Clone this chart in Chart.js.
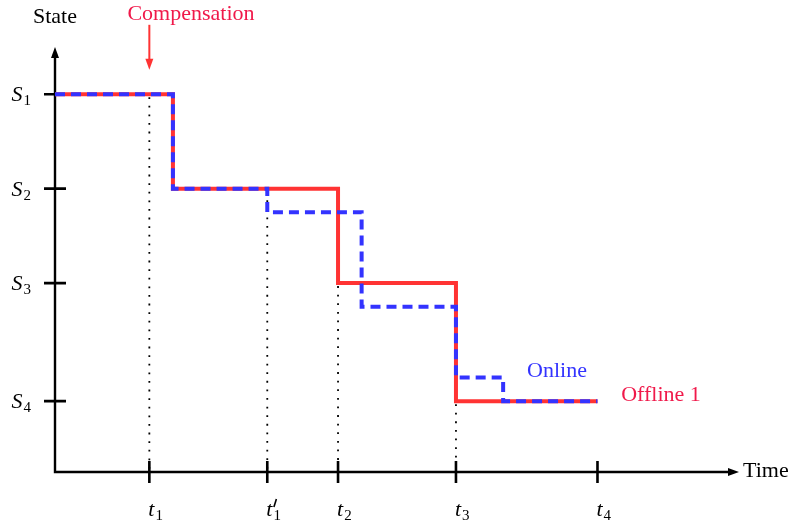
<!DOCTYPE html>
<html>
<head>
<meta charset="utf-8">
<script src="https://cdn.jsdelivr.net/npm/chart.js@4.4.1/dist/chart.umd.min.js"></script>
<style>
  html, body { margin: 0; padding: 0; background: #fff; }
  #wrap { width: 791px; height: 526px; }
</style>
</head>
<body>
<div id="wrap"><canvas id="steps"></canvas></div>
<script>
// step corners (time, state)
const offlineTimes  = [0, 2.5, 6, 8.5, 11.5];
const offlineStates = [8, 6, 4, 1.5, 1.5];
const onlineTimes   = [0, 2.5, 4.5, 6.5, 8.5, 9.5, 11.5];
const onlineStates  = [8, 6, 5.5, 3.5, 2, 1.5, 1.5];

const timeTicks  = [2, 4.5, 6, 8.5, 11.5];
const timeLabels = ["t_1", "t'_1", "t_2", "t_3", "t_4"];
const guideTops  = [8, 6, 4, 1.5, null];   // dotted guides reach up to these states

const stateTicks  = [8, 6, 4, 1.5];
const stateLabels = ["S_1", "S_2", "S_3", "S_4"];

const compensationTime = 2;

const RED = '#ff3333';
const BLUE = '#3333ff';
const TXT_RED = '#f0194a';
const SERIF = "'Liberation Serif', 'DejaVu Serif', serif";

function pts(xs, ys) { return xs.map((x, i) => ({ x: x, y: ys[i] })); }

// draw label like "t'_1" : italic letter, optional prime, subscript
function mathLabel(ctx, label, x, y, align) {
  const m = label.match(/^(\w)('?)_(\w)$/);
  const fBig = 'italic 22px ' + SERIF, fSub = '15px ' + SERIF;
  ctx.font = fBig;
  const wb = ctx.measureText(m[1]).width;
  ctx.font = fSub;
  const ws = ctx.measureText(m[3]).width;
  const total = wb + 1 + ws;
  let x0 = align === 'right' ? x - total : (align === 'left' ? x : x - total / 2);
  ctx.textAlign = 'left';
  ctx.textBaseline = 'alphabetic';
  ctx.font = fBig;
  ctx.fillText(m[1], x0, y);
  if (m[2]) {
    // prime as a short slanted stroke
    ctx.save();
    ctx.strokeStyle = ctx.fillStyle;
    ctx.lineWidth = 1.6;
    ctx.beginPath();
    ctx.moveTo(x0 + wb + 4, y - 17);
    ctx.lineTo(x0 + wb + 1.5, y - 9);
    ctx.stroke();
    ctx.restore();
  }
  ctx.font = fSub;
  ctx.fillText(m[3], x0 + wb + 1, y + 4);
}

function arrowHead(ctx, tipX, tipY, dir, len, half, color) {
  ctx.fillStyle = color;
  ctx.beginPath();
  if (dir === 'up') {
    ctx.moveTo(tipX, tipY); ctx.lineTo(tipX - half, tipY + len); ctx.lineTo(tipX + half, tipY + len);
  } else if (dir === 'down') {
    ctx.moveTo(tipX, tipY); ctx.lineTo(tipX - half, tipY - len); ctx.lineTo(tipX + half, tipY - len);
  } else {
    ctx.moveTo(tipX, tipY); ctx.lineTo(tipX - len, tipY - half); ctx.lineTo(tipX - len, tipY + half);
  }
  ctx.closePath();
  ctx.fill();
}

const axesPlugin = {
  id: 'axesPlugin',
  beforeDatasetsDraw(chart) {
    const ctx = chart.ctx, xs = chart.scales.x, ys = chart.scales.y;
    const x0 = xs.getPixelForValue(0), y0 = ys.getPixelForValue(0);
    const xEnd = xs.getPixelForValue(xs.max), yEnd = ys.getPixelForValue(ys.max);
    ctx.save();
    // dotted guides
    ctx.strokeStyle = '#000';
    ctx.lineWidth = 1.8;
    ctx.setLineDash([1.8, 6.8]);
    timeTicks.forEach((t, i) => {
      if (guideTops[i] == null) return;
      const px = xs.getPixelForValue(t);
      ctx.beginPath();
      ctx.moveTo(px, ys.getPixelForValue(guideTops[i]) + 3);
      ctx.lineTo(px, y0);
      ctx.stroke();
    });
    ctx.setLineDash([]);
    // axes
    ctx.lineWidth = 2.4;
    ctx.beginPath();
    ctx.moveTo(x0, y0); ctx.lineTo(x0, yEnd + 9);
    ctx.moveTo(x0 - 1.2, y0); ctx.lineTo(xEnd - 9, y0);
    ctx.stroke();
    arrowHead(ctx, x0, yEnd, 'up', 11, 4, '#000');
    arrowHead(ctx, xEnd, y0, 'right', 11, 4, '#000');
    // ticks
    ctx.lineWidth = 2.6;
    ctx.beginPath();
    stateTicks.forEach(s => {
      const py = ys.getPixelForValue(s);
      ctx.moveTo(x0 - 11, py); ctx.lineTo(x0 + 11, py);
    });
    timeTicks.forEach(t => {
      const px = xs.getPixelForValue(t);
      ctx.moveTo(px, y0 - 11); ctx.lineTo(px, y0 + 11);
    });
    ctx.stroke();
    // tick labels
    ctx.fillStyle = '#000';
    stateTicks.forEach((s, i) => mathLabel(ctx, stateLabels[i], 31, ys.getPixelForValue(s) + 7, 'right'));
    timeTicks.forEach((t, i) => mathLabel(ctx, timeLabels[i], xs.getPixelForValue(t) - 1, 516, 'left'));
    // axis titles
    ctx.font = '22px ' + SERIF;
    ctx.textBaseline = 'middle';
    ctx.textAlign = 'center';
    ctx.fillText('State', x0, 17);
    ctx.textAlign = 'left';
    ctx.fillText('Time', xEnd + 4, y0 - 1);
    ctx.restore();
  },
  afterDraw(chart) {
    const ctx = chart.ctx, xs = chart.scales.x, ys = chart.scales.y;
    ctx.save();
    const cx = xs.getPixelForValue(compensationTime);
    ctx.strokeStyle = RED;
    ctx.lineWidth = 2;
    ctx.beginPath();
    ctx.moveTo(cx, ys.getPixelForValue(9.47));
    ctx.lineTo(cx, ys.getPixelForValue(8.52) - 9);
    ctx.stroke();
    arrowHead(ctx, cx, ys.getPixelForValue(8.52), 'down', 11, 4, RED);
    ctx.font = '22px ' + SERIF;
    ctx.textBaseline = 'middle';
    ctx.textAlign = 'center';
    ctx.fillStyle = TXT_RED;
    ctx.fillText('Compensation', 191, 14);
    ctx.fillText('Offline 1', 661, 395);
    ctx.fillStyle = BLUE;
    ctx.fillText('Online', 557, 371);
    ctx.restore();
  }
};

new Chart(document.getElementById('steps'), {
  type: 'line',
  data: {
    datasets: [
      {
        label: 'Online',
        data: pts(onlineTimes, onlineStates),
        stepped: 'before',
        borderColor: BLUE,
        borderWidth: 4,
        borderDash: [10, 6],
        borderCapStyle: 'butt',
        borderJoinStyle: 'miter',
        pointRadius: 0,
        fill: false,
        order: 0
      },
      {
        label: 'Offline 1',
        data: pts(offlineTimes, offlineStates),
        stepped: 'before',
        borderColor: RED,
        borderWidth: 4,
        borderJoinStyle: 'miter',
        pointRadius: 0,
        fill: false,
        order: 1
      }
    ]
  },
  options: {
    responsive: true,
    maintainAspectRatio: false,
    animation: false,
    layout: { padding: { left: 55, right: 52, top: 47, bottom: 54 } },
    plugins: { legend: { display: false }, tooltip: { enabled: false } },
    scales: {
      x: { type: 'linear', min: 0, max: 14.5, display: false },
      y: { type: 'linear', min: 0, max: 9, display: false }
    }
  },
  plugins: [axesPlugin]
});
</script>
</body>
</html>
